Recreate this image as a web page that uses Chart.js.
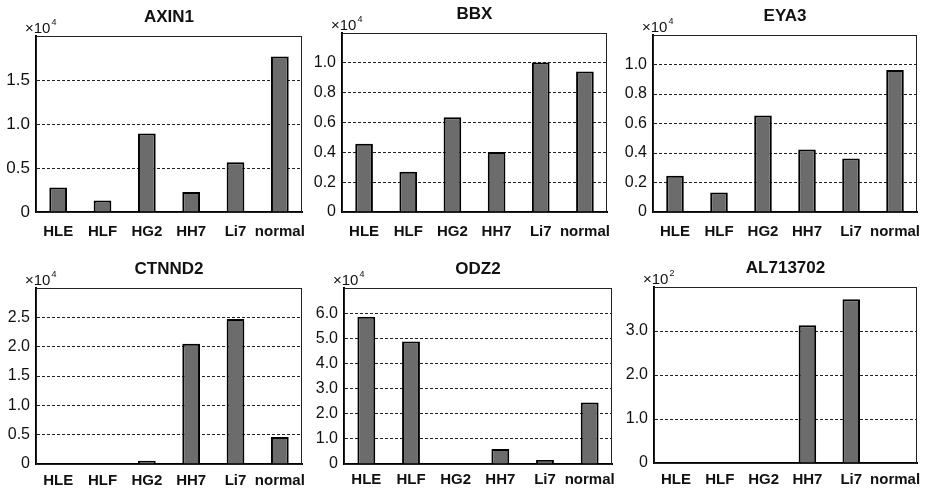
<!DOCTYPE html>
<html>
<head>
<meta charset="utf-8">
<script src="https://cdn.jsdelivr.net/npm/chart.js@4/dist/chart.umd.min.js"></script>
<style>
  body { margin:0; background:#fff; }
  #wrap { position:relative; width:926px; height:490px; }
  canvas { position:absolute; }
</style>
</head>
<body>
<div id="wrap">
  <canvas id="c1" width="310" height="240" style="left:0;top:0"></canvas>
  <canvas id="c2" width="310" height="240" style="left:310px;top:0"></canvas>
  <canvas id="c3" width="306" height="240" style="left:620px;top:0"></canvas>
  <canvas id="c4" width="310" height="250" style="left:0;top:240px"></canvas>
  <canvas id="c5" width="310" height="250" style="left:310px;top:240px"></canvas>
  <canvas id="c6" width="306" height="250" style="left:620px;top:240px"></canvas>
</div>
<script>
// === datos ===
const cellLines = ['HLE','HLF','HG2','HH7','Li7','normal'];

const axin1    = [2780, 1300, 8930, 2260, 5650, 17680];
const bbx      = [4580, 2690, 6350, 4020, 10020, 9420];
const eya3     = [2460, 1320, 6550, 4230, 3620, 9620];
const ctnnd2   = [0, 0, 560, 20500, 24700, 4600];
const odz2     = [58600, 48700, 0, 6000, 1600, 24500];
const al713702 = [0, 0, 0, 313, 372, 0];

const geneNames = ['AXIN1','BBX','EYA3','CTNND2','ODZ2','AL713702'];
const yMax      = [20000, 12000, 12000, 30000, 70000, 400];
const yStep     = [5000, 2000, 2000, 5000, 10000, 100];
const exponents = [4, 4, 4, 4, 4, 2];

const FONT = 'Liberation Sans, Arial, sans-serif';

// título y "x10^n" dibujados sobre el área del gráfico
const panelDeco = {
  id: 'panelDeco',
  afterDraw(chart, args, opts) {
    const { ctx, chartArea: a } = chart;
    ctx.save();
    // marco
    ctx.strokeStyle = '#222';
    ctx.lineWidth = 1;
    ctx.strokeRect(a.left + 0.5, a.top + 0.5, a.right - a.left - 1, a.bottom - a.top);
    // título
    ctx.fillStyle = '#111';
    ctx.font = 'bold 17px ' + FONT;
    ctx.textAlign = 'center';
    ctx.textBaseline = 'middle';
    ctx.fillText(opts.title, (a.left + a.right) / 2, a.top - 19);
    // exponente
    ctx.textAlign = 'left';
    ctx.textBaseline = 'alphabetic';
    ctx.font = '15px ' + FONT;
    const x0 = a.left - 11, y0 = a.top - 3;
    ctx.fillText('×10', x0, y0);
    const w = ctx.measureText('×10').width;
    ctx.font = '9px ' + FONT;
    ctx.fillText(String(opts.exp), x0 + w + 1, y0 - 8);
    ctx.restore();
  }
};

function makePanel(id, idx, values, box) {
  const exp = exponents[idx], max = yMax[idx];
  new Chart(document.getElementById(id), {
    type: 'bar',
    data: {
      labels: cellLines,
      datasets: [{
        data: values,
        backgroundColor: '#6c6c6c',
        borderColor: '#000',
        borderWidth: 2,
        categoryPercentage: 1,
        barPercentage: 0.4
      }]
    },
    options: {
      responsive: false,
      animation: false,
      events: [],
      layout: { padding: { left: 0, right: box.padR, top: box.top, bottom: 0 } },
      plugins: {
        legend: { display: false },
        tooltip: { enabled: false },
        panelDeco: { title: geneNames[idx], exp: exp }
      },
      scales: {
        x: {
          grid: { display: false, drawTicks: false },
          border: { color: '#000', width: 2 },
          ticks: { color: '#111', font: { family: FONT, size: 15, weight: 'bold' }, padding: box.xPad, maxRotation: 0, autoSkip: false },
          afterFit(s) { s.height = box.xH; s.paddingLeft = 0; s.paddingRight = 0; }
        },
        y: {
          min: 0, max: max,
          grid: { color: '#222', lineWidth: 1, drawTicks: false },
          border: { color: '#000', width: 2, dash: [3, 2] },
          ticks: {
            stepSize: yStep[idx],
            color: '#111',
            font: { family: FONT, size: box.yFont },
            padding: 6,
            callback: v => v === 0 ? '0' : (v >= max ? '' : (v / Math.pow(10, exp)).toFixed(1))
          },
          afterFit(s) { s.width = box.yW; s.paddingTop = 0; s.paddingBottom = 0; }
        }
      }
    },
    plugins: [panelDeco]
  });
}

makePanel('c1', 0, axin1,    { yW: 36, padR: 8,  top: 36, xH: 28, xPad: 11, yFont: 17 });
makePanel('c2', 1, bbx,      { yW: 32, padR: 13, top: 33, xH: 28, xPad: 11, yFont: 16 });
makePanel('c3', 2, eya3,     { yW: 33, padR: 9,  top: 35, xH: 28, xPad: 11, yFont: 16 });
makePanel('c4', 3, ctnnd2,   { yW: 36, padR: 8,  top: 48, xH: 26, xPad: 8,  yFont: 16 });
makePanel('c5', 4, odz2,     { yW: 34, padR: 8,  top: 48, xH: 26, xPad: 7,  yFont: 16 });
makePanel('c6', 5, al713702, { yW: 34, padR: 9,  top: 47, xH: 27, xPad: 8,  yFont: 16 });
</script>
</body>
</html>
